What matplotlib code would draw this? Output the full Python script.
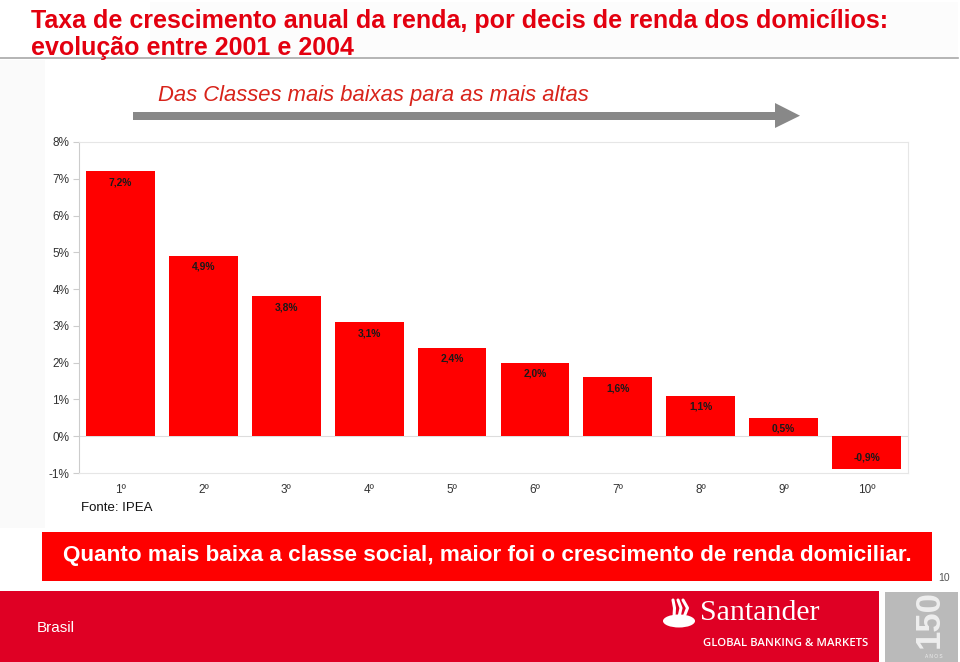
import matplotlib
matplotlib.use("Agg")
import matplotlib.pyplot as plt
from matplotlib.patches import Rectangle, Polygon, Ellipse
import numpy as np

plt.rcParams['font.family'] = ['Liberation Sans', 'DejaVu Sans']

# data
decis = ['1º', '2º', '3º', '4º', '5º', '6º', '7º', '8º', '9º', '10º']
crescimento = [7.2, 4.9, 3.8, 3.1, 2.4, 2.0, 1.6, 1.1, 0.5, -0.9]
rotulos = ['7,2%', '4,9%', '3,8%', '3,1%', '2,4%', '2,0%', '1,6%', '1,1%', '0,5%', '-0,9%']
yticks = [-1, 0, 1, 2, 3, 4, 5, 6, 7, 8]

W, H = 960, 662
fig = plt.figure(figsize=(W / 100, H / 100), dpi=100)

# background layer in pixel coords for the slide decorations
bg = fig.add_axes([0, 0, 1, 1])
bg.set_xlim(0, W)
bg.set_ylim(H, 0)
bg.axis('off')

bg.add_patch(Rectangle((0, 60), 45, 468, color='#fafafa', lw=0))
bg.add_patch(Rectangle((150, 2), 808, 55, color='#fcfcfc', lw=0))
bg.plot([0, 958], [57.5, 57.5], color='#a8a8a8', lw=1.2)

red = '#e3000f'
bg.text(31, 21, 'Taxa de crescimento anual da renda, por decis de renda dos domicílios:',
        color=red, fontsize=18, fontweight='bold', va='center', ha='left')
bg.text(31, 48, 'evolução entre 2001 e 2004',
        color=red, fontsize=18, fontweight='bold', va='center', ha='left')
bg.text(158, 95, 'Das Classes mais baixas para as mais altas',
        color='#d8231a', fontsize=15.8, fontstyle='italic', va='center', ha='left')

# grey arrow
bg.add_patch(Rectangle((133, 112), 643, 7.5, color='#888888', lw=0))
bg.add_patch(Polygon([[775, 103], [800, 115.7], [775, 128]], closed=True, color='#888888', lw=0))

# conclusion box
bg.add_patch(Rectangle((42, 532), 890, 49, color='#fe0000', lw=0))
bg.text(487, 556, 'Quanto mais baixa a classe social, maior foi o crescimento de renda domiciliar.',
        color='white', fontsize=16.2, fontweight='bold', va='center', ha='center')
bg.text(944, 578, '10', color='#555555', fontsize=7.5, va='center', ha='center')

# footer
bg.add_patch(Rectangle((0, 591), 879, 71, color='#df0024', lw=0))
bg.add_patch(Rectangle((885, 592), 73, 70, color='#bababa', lw=0))
bg.text(37, 628, 'Brasil', color='white', fontsize=11, va='center', ha='left')
bg.add_patch(Ellipse((679, 621), 32, 13, color='white', lw=0))
for dx in (-5, 0, 5):
    bg.plot([679 + dx, 681 + dx * 1.3, 678 + dx], [617, 608, 600], color='white', lw=2.2,
            solid_capstyle='round')
bg.text(700, 613, 'Santander', color='white', fontsize=21.5, family='Liberation Serif',
        va='center', ha='left')
bg.text(703, 644, 'GLOBAL BANKING & MARKETS', color='white', fontsize=8.2,
        family='Open Sans', fontweight='semibold', va='center', ha='left')
bg.text(929, 619, '150', color='#eeeeee', fontsize=25, fontweight='bold', rotation=90,
        va='center', ha='center')
bg.text(934, 657, 'A N O S', color='#eeeeee', fontsize=3.5, va='center', ha='center')

# main chart
ax = fig.add_axes([79 / W, 1 - 473 / H, 829 / W, 331 / H])
x = np.arange(len(decis))
bars = ax.bar(x, crescimento, width=0.83, color='#ff0000', zorder=3)
ax.axhline(0, color='#dddddd', lw=0.8, zorder=1)

for b, v, lab in zip(bars, crescimento, rotulos):
    off = -7.8 if v >= 0 else 8.5
    ax.annotate(lab, (b.get_x() + b.get_width() / 2, v), xytext=(0, off),
                textcoords='offset points', ha='center', va='center',
                fontsize=7.4, fontweight='bold', color='#1a1a1a', zorder=4)

ax.set_xlim(-0.5, len(decis) - 0.5)
ax.set_ylim(-1, 8)
ax.set_yticks(yticks)
ax.set_yticklabels([f'{t}%' for t in yticks])
ax.set_xticks(x)
ax.set_xticklabels(decis)
ax.tick_params(axis='y', labelsize=8.5, labelcolor='#333333', color='#cccccc', length=4, pad=3)
ax.tick_params(axis='x', labelsize=8.5, labelcolor='#333333', length=0, pad=8)
for s in ax.spines.values():
    s.set_color('#e6e6e6')
ax.spines['left'].set_color('#cccccc')
ax.set_facecolor('white')

fig.text(81 / W, 1 - 508 / H, 'Fonte: IPEA', fontsize=9.5, color='#111111', va='center', ha='left')

fig.savefig('out.png', dpi=100)
